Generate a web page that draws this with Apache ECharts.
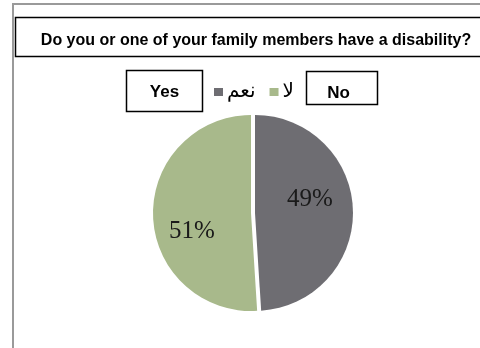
<!DOCTYPE html>
<html>
<head>
<meta charset="utf-8">
<script src="https://cdn.jsdelivr.net/npm/echarts@6/dist/echarts.min.js"></script>
<style>
  html, body { margin: 0; padding: 0; background: #fff; }
  #chart { width: 480px; height: 348px; }
</style>
</head>
<body>
<div id="chart"></div>
<script>
// Survey answers: share of respondents (percent)
const categories = ['نعم', 'لا'];
const values = [49, 51];
const sliceColors = ['#6e6d72', '#a8b98b'];
const titleText = 'Do you or one of your family members have a disability?';
const yesText = 'Yes';
const noText = 'No';

// Hand-placed label nudges (px) so the percentages sit like a spreadsheet pie
const labelShifts = [[3, -12], [-7, 17]];

const chart = echarts.init(document.getElementById('chart'), null, { renderer: 'canvas' });

const pieData = categories.map((name, i) => ({
  name: name,
  value: values[i],
  selected: true,
  itemStyle: { color: sliceColors[i] }
}));

chart.setOption({
  animation: false,
  backgroundColor: '#ffffff',
  title: {
    text: titleText,
    left: 251,
    top: 36,
    textAlign: 'center',
    textVerticalAlign: 'middle',
    textStyle: {
      fontFamily: 'Liberation Sans, Arial, sans-serif',
      fontWeight: 'bold',
      fontSize: 16,
      color: '#000'
    }
  },
  legend: {
    data: categories,
    left: 209,
    top: 77,
    orient: 'horizontal',
    itemWidth: 9,
    itemHeight: 8,
    itemGap: 14,
    icon: 'rect',
    selectedMode: false,
    textStyle: {
      fontFamily: 'DejaVu Sans, sans-serif',
      fontSize: 20,
      color: '#000',
      padding: [0, 0, 0, -1]
    }
  },
  graphic: [
    {
      type: 'rect', z: -10, silent: true,
      shape: { x: 13, y: 4, width: 600, height: 500 },
      style: { fill: 'none', stroke: '#9a9a9a', lineWidth: 2 }
    },
    {
      type: 'rect', z: -5, silent: true,
      shape: { x: 15.5, y: 17.5, width: 600, height: 39 },
      style: { fill: '#fff', stroke: '#000', lineWidth: 1.5 }
    },
    {
      type: 'group', silent: true,
      children: [
        {
          type: 'rect',
          shape: { x: 126.5, y: 70.5, width: 76, height: 41 },
          style: { fill: '#fff', stroke: '#000', lineWidth: 1.5 }
        },
        {
          type: 'text',
          x: 164.5, y: 92,
          style: {
            text: yesText, align: 'center', verticalAlign: 'middle',
            font: 'bold 17px "Liberation Sans", Arial, sans-serif', fill: '#000'
          }
        },
        {
          type: 'rect',
          shape: { x: 306.5, y: 71.5, width: 71, height: 33 },
          style: { fill: '#fff', stroke: '#000', lineWidth: 1.5 }
        },
        {
          type: 'text',
          x: 338.5, y: 93,
          style: {
            text: noText, align: 'center', verticalAlign: 'middle',
            font: 'bold 17px "Liberation Sans", Arial, sans-serif', fill: '#000'
          }
        }
      ]
    }
  ],
  series: [
    {
      type: 'pie',
      center: [253, 213],
      radius: [0, 98],
      startAngle: 90,
      clockwise: true,
      selectedMode: 'multiple',
      selectedOffset: 2,
      avoidLabelOverlap: false,
      emphasis: { disabled: true },
      label: {
        show: true,
        position: 'inside',
        formatter: '{c}%',
        fontFamily: 'Liberation Serif, Times New Roman, serif',
        fontSize: 25,
        color: '#1a1a1a'
      },
      labelLayout: function (params) {
        const s = labelShifts[params.dataIndex] || [0, 0];
        return { dx: s[0], dy: s[1] };
      },
      labelLine: { show: false },
      itemStyle: { borderWidth: 0 },
      data: pieData
    }
  ]
});
</script>
</body>
</html>
